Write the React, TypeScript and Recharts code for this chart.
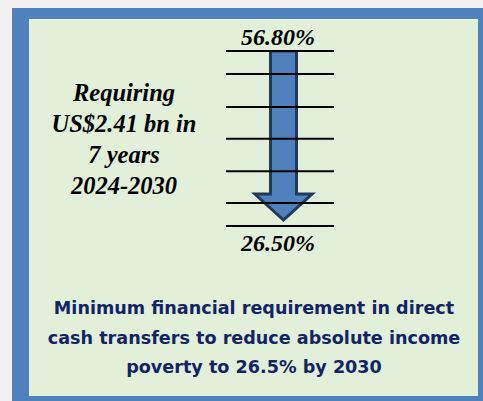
import { ComposedChart, Bar, XAxis, YAxis, ReferenceLine } from "recharts";

// poverty rate at start and end of the period (%)
const periods = ["2024", "2030"];
const povertyRates = [56.8, 26.5];
// horizontal guide levels behind the arrow
const gridLevels = [26.5, 30.5, 36.0, 41.6, 47.1, 52.8, 56.8];
const requirementLines = ["Requiring", "US$2.41 bn in", "7 years", "2024-2030"];
const captionLines = [
  "Minimum financial requirement in direct",
  "cash transfers to reduce absolute income",
  "poverty to 26.5% by 2030",
];

const data = [
  {
    name: `${periods[0]}-${periods[1]}`,
    range: [povertyRates[1], povertyRates[0]],
  },
];

const serif = "'Liberation Serif', 'Times New Roman', serif";
const sans = "'DejaVu Sans', Verdana, sans-serif";

function ArrowShape(props: any) {
  const { x, y, width, height } = props;
  const cx = x + width / 2 + 3.5;
  const half = width / 2;
  const headHalf = width * 1.1;
  const tipY = y + height - 6;
  const headY = tipY - 26;
  const d = [
    `M${cx - half},${y}`,
    `L${cx + half},${y}`,
    `L${cx + half},${headY}`,
    `L${cx + headHalf},${headY}`,
    `L${cx},${tipY}`,
    `L${cx - headHalf},${headY}`,
    `L${cx - half},${headY}`,
    "Z",
  ].join(" ");
  return <path d={d} fill="#4f81bd" stroke="#213a5a" strokeWidth={3} strokeLinejoin="miter" />;
}

const pct = (v: number) => `${v.toFixed(2)}%`;

export default function App() {
  return (
    <div style={{ position: "absolute", left: 0, top: 0, width: 483, height: 401, background: "#f1f1f1", overflow: "hidden" }}>
      <div style={{ position: "absolute", left: 12, top: 8, width: 471, height: 393, background: "#4f81bd" }} />
      <div
        style={{
          position: "absolute",
          left: 29,
          top: 19,
          width: 449,
          height: 377,
          background: "#e2efd9",
          borderTop: "1px solid #f3f7ef",
          boxSizing: "border-box",
        }}
      />

      {requirementLines.map((line, i) => (
        <div
          key={line}
          style={{
            position: "absolute",
            left: 24,
            width: 200,
            top: 78.5 + i * 31,
            textAlign: "center",
            fontFamily: serif,
            fontWeight: "bold",
            fontStyle: "italic",
            fontSize: 24.5,
            lineHeight: "28px",
            color: "#000",
            whiteSpace: "nowrap",
          }}
        >
          {line}
        </div>
      ))}

      {captionLines.map((line, i) => (
        <div
          key={line}
          style={{
            position: "absolute",
            left: 29,
            width: 450,
            top: 296 + i * 29.7,
            textAlign: "center",
            fontFamily: sans,
            fontWeight: "bold",
            fontSize: 17.6,
            lineHeight: "24px",
            color: "#112466",
            whiteSpace: "nowrap",
          }}
        >
          {line}
        </div>
      ))}

      <div style={{ position: "absolute", left: 0, top: 0 }}>
        <ComposedChart width={483} height={401} data={data} margin={{ top: 51, right: 149, bottom: 175, left: 226 }}>
          <XAxis dataKey="name" type="category" hide />
          <YAxis type="number" domain={[povertyRates[1], povertyRates[0]]} allowDataOverflow hide />
          {gridLevels.map((v) => (
            <ReferenceLine key={v} y={v} stroke="#000" strokeWidth={2} ifOverflow="visible" />
          ))}
          <ReferenceLine
            y={povertyRates[0]}
            stroke="none"
            ifOverflow="visible"
            label={{
              value: pct(povertyRates[0]),
              position: "top",
              offset: 6,
              dx: -2,
              fill: "#000",
              fontFamily: serif,
              fontWeight: "bold",
              fontStyle: "italic",
              fontSize: 24,
            }}
          />
          <ReferenceLine
            y={povertyRates[1]}
            stroke="none"
            ifOverflow="visible"
            label={{
              value: pct(povertyRates[1]),
              position: "bottom",
              offset: 8,
              dx: -2,
              fill: "#000",
              fontFamily: serif,
              fontWeight: "bold",
              fontStyle: "italic",
              fontSize: 24,
            }}
          />
          <Bar dataKey="range" barSize={26} shape={<ArrowShape />} isAnimationActive={false} />
        </ComposedChart>
      </div>
    </div>
  );
}
